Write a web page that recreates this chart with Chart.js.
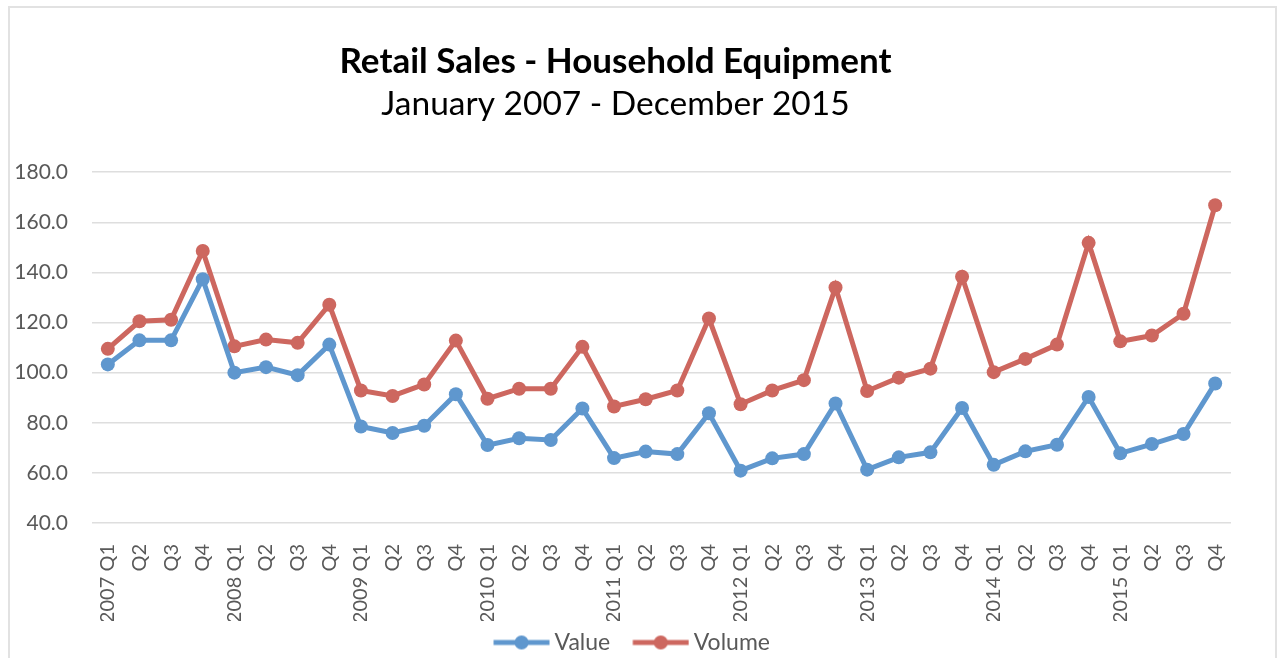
<!DOCTYPE html>
<html>
<head>
<meta charset="utf-8">
<title>Retail Sales - Household Equipment</title>
<script src="https://cdn.jsdelivr.net/npm/chart.js@4.4.1/dist/chart.umd.min.js"></script>
<style>
    html, body { margin: 0; padding: 0; background: #ffffff; }
    #wrap { position: relative; width: 1277px; height: 658px; overflow: hidden; }
    #salesChart { position: absolute; left: 0; top: 0; }
    #frame {
        position: absolute; left: 8px; top: 6px; width: 1269px; height: 700px;
        border: 2px solid #e2e2e2; box-sizing: border-box; pointer-events: none;
    }
</style>
</head>
<body>
<div id="wrap">
    <canvas id="salesChart" width="1277" height="658"></canvas>
    <div id="frame"></div>
</div>
<script>
// Quarterly index, 2007 Q1 - 2015 Q4
const quarterLabels = [
    "2007 Q1", "Q2", "Q3", "Q4",
    "2008 Q1", "Q2", "Q3", "Q4",
    "2009 Q1", "Q2", "Q3", "Q4",
    "2010 Q1", "Q2", "Q3", "Q4",
    "2011 Q1", "Q2", "Q3", "Q4",
    "2012 Q1", "Q2", "Q3", "Q4",
    "2013 Q1", "Q2", "Q3", "Q4",
    "2014 Q1", "Q2", "Q3", "Q4",
    "2015 Q1", "Q2", "Q3", "Q4"
];

const valueSeries = [
    103.3, 112.9, 112.9, 137.3,
    100.0, 102.2, 99.0, 111.2,
    78.5, 75.9, 78.8, 91.4,
    71.1, 73.8, 73.1, 85.7,
    65.9, 68.5, 67.5, 83.8,
    60.9, 65.8, 67.5, 87.7,
    61.3, 66.2, 68.2, 85.9,
    63.2, 68.6, 71.2, 90.3,
    67.8, 71.5, 75.5, 95.7
];

const volumeSeries = [
    109.5, 120.5, 121.1, 148.6,
    110.5, 113.2, 111.9, 127.1,
    92.9, 90.7, 95.3, 112.8,
    89.6, 93.6, 93.6, 110.3,
    86.5, 89.4, 92.9, 121.6,
    87.4, 92.9, 97.0, 134.0,
    92.7, 98.0, 101.6, 138.3,
    100.2, 105.5, 111.2, 151.8,
    112.5, 114.8, 123.5, 166.8
];

const yMin = 40;
const yMax = 180;
const yStep = 20;

const blue = "#5f97ce";
const red = "#cd675f";
const textGrey = "#595959";
const fontFamily = "Lato, 'Open Sans', sans-serif";

// legend swatch: short line with a marker in the middle.
// The canvas is wider than the legend box so the line sits close to its text.
function lineSwatch(color) {
    const c = document.createElement("canvas");
    c.width = 76;
    c.height = 16;
    const g = c.getContext("2d");
    g.strokeStyle = color;
    g.lineWidth = 5;
    g.beginPath();
    g.moveTo(19.5, 8);
    g.lineTo(75.5, 8);
    g.stroke();
    g.fillStyle = color;
    g.beginPath();
    g.arc(47.5, 8, 7, 0, Math.PI * 2);
    g.fill();
    return c;
}
const swatches = [lineSwatch(blue), lineSwatch(red)];

// the legend sits a little right of the page centre
const legendNudge = {
    id: "legendNudge",
    afterLayout(chart) {
        if (chart.legend) {
            chart.legend.left += 10;
            chart.legend.right += 10;
        }
    }
};

const ctx = document.getElementById("salesChart").getContext("2d");
new Chart(ctx, {
    type: "line",
    data: {
        labels: quarterLabels,
        datasets: [{
            label: "Value",
            data: valueSeries,
            borderColor: blue,
            backgroundColor: blue,
            borderWidth: 5,
            pointRadius: 7,
            pointBorderWidth: 0,
            pointBackgroundColor: blue,
            tension: 0
        }, {
            label: "Volume",
            data: volumeSeries,
            borderColor: red,
            backgroundColor: red,
            borderWidth: 5,
            pointRadius: 7,
            pointBorderWidth: 0,
            pointBackgroundColor: red,
            tension: 0
        }]
    },
    options: {
        responsive: false,
        animation: false,
        layout: {
            padding: { left: 0, right: 46, top: 0, bottom: -6 }
        },
        scales: {
            x: {
                offset: true,
                grid: { display: false, drawTicks: false },
                border: { display: false },
                ticks: {
                    color: textGrey,
                    font: { family: fontFamily, size: 20 },
                    minRotation: 90,
                    maxRotation: 90,
                    autoSkip: false,
                    padding: 21
                },
                afterFit: scale => { scale.height = 98; }
            },
            y: {
                min: yMin,
                max: yMax,
                grid: { color: "#dedede", lineWidth: 1.5, drawTicks: false },
                border: { display: false },
                ticks: {
                    stepSize: yStep,
                    color: textGrey,
                    font: { family: fontFamily, size: 21 },
                    padding: 24,
                    callback: v => Number(v).toFixed(1)
                },
                afterFit: scale => { scale.width = 92; }
            }
        },
        plugins: {
            title: {
                display: true,
                text: "Retail Sales - Household Equipment",
                color: "#000000",
                font: { family: fontFamily, size: 35, weight: "bold", lineHeight: 1.2 },
                padding: { top: 41, bottom: 0 }
            },
            subtitle: {
                display: true,
                text: "January 2007 - December 2015",
                color: "#000000",
                font: { family: fontFamily, size: 33.5, weight: "normal", lineHeight: 1.2 },
                padding: { top: 1, bottom: 48 }
            },
            legend: {
                position: "bottom",
                labels: {
                    color: textGrey,
                    font: { family: fontFamily, size: 23 },
                    usePointStyle: true,
                    pointStyleWidth: 62,
                    boxHeight: 16,
                    padding: 10,
                    generateLabels: chart => {
                        const items = Chart.defaults.plugins.legend.labels.generateLabels(chart);
                        items.forEach(item => { item.pointStyle = swatches[item.datasetIndex]; });
                        return items;
                    }
                }
            },
            tooltip: { enabled: false }
        }
    },
    plugins: [legendNudge]
});
</script>
</body>
</html>
